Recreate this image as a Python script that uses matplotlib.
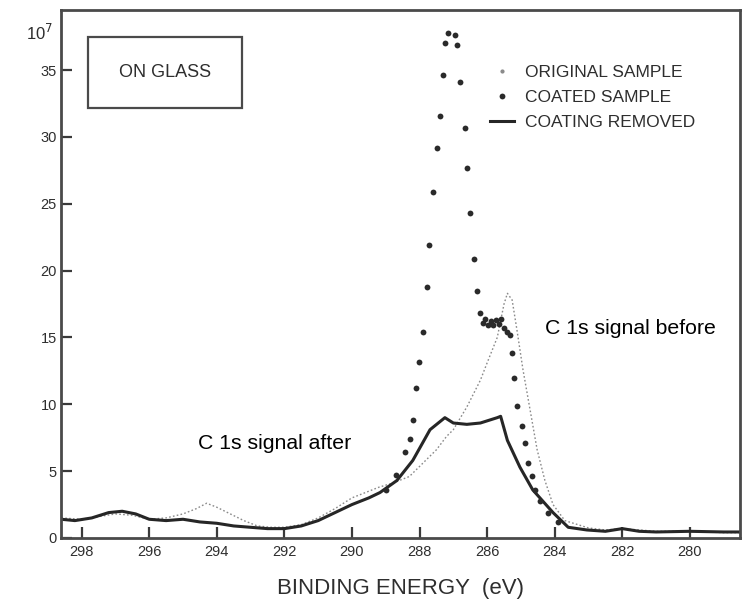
import numpy as np
import matplotlib
matplotlib.use("Agg")
import matplotlib.pyplot as plt
from matplotlib.lines import Line2D
from matplotlib.patches import Rectangle

plt.rcParams.update({
    "font.family": ["Liberation Sans", "DejaVu Sans"],
    "axes.linewidth": 2.0,
    "axes.edgecolor": "#4a4a4a",
    "xtick.direction": "in",
    "ytick.direction": "in",
    "xtick.color": "#3a3a3a",
    "ytick.color": "#3a3a3a",
})

INK = "#2e2e2e"

# C 1s spectra (counts x 1e7) on glass
orig_ev = [298.6, 298.0, 297.5, 297.0, 296.5, 296.0, 295.5, 295.0, 294.6, 294.3,
           294.0, 293.6, 293.2, 292.8, 292.4, 292.0, 291.5, 291.0, 290.5, 290.0,
           289.6, 289.2, 288.8, 288.3, 287.9, 287.5, 287.2, 287.0, 286.6, 286.2,
           286.0, 285.7, 285.5, 285.4, 285.26, 285.12, 284.94, 284.73, 284.52, 284.29,
           284.05, 283.7, 283.0, 282.5, 282.0, 281.0, 280.0, 279.0, 278.5]
orig_counts = [1.5, 1.4, 1.6, 1.8, 1.7, 1.4, 1.5, 1.8, 2.2, 2.6,
               2.3, 1.8, 1.3, 0.9, 0.8, 0.8, 1.0, 1.5, 2.2, 3.0,
               3.4, 3.8, 4.1, 4.6, 5.6, 6.6, 7.6, 8.1, 9.8, 11.8,
               13.1, 15.0, 17.5, 18.3, 17.8, 15.6, 12.6, 9.6, 6.6, 4.3,
               2.5, 1.3, 0.75, 0.6, 0.7, 0.5, 0.5, 0.4, 0.4]

coated_ev = [289.0, 288.7, 288.43, 288.29, 288.2, 288.11, 288.02, 287.9, 287.78, 287.72,
             287.61, 287.49, 287.4, 287.31, 287.26, 287.17, 286.96, 286.9, 286.81, 286.66,
             286.6, 286.51, 286.39, 286.3, 286.2, 286.12, 286.05, 285.97, 285.9, 285.82,
             285.74, 285.66, 285.58, 285.5, 285.42, 285.33, 285.27, 285.21, 285.12, 284.97,
             284.88, 284.79, 284.68, 284.58, 284.43, 284.2, 283.9]
coated_counts = [3.6, 4.7, 6.4, 7.4, 8.8, 11.2, 13.2, 15.4, 18.8, 21.9,
                 25.9, 29.2, 31.6, 34.6, 37.0, 37.8, 37.6, 36.9, 34.1, 30.7,
                 27.7, 24.3, 20.9, 18.5, 16.8, 16.1, 16.4, 15.9, 16.2, 15.9,
                 16.3, 16.0, 16.4, 15.7, 15.4, 15.2, 13.8, 12.0, 9.9, 8.4,
                 7.1, 5.6, 4.6, 3.6, 2.8, 1.9, 1.2]

removed_ev = [298.6, 298.2, 297.7, 297.2, 296.8, 296.4, 296.0, 295.5, 295.0, 294.5,
              294.0, 293.5, 293.0, 292.5, 292.0, 291.5, 291.0, 290.5, 290.0, 289.5,
              289.17, 288.67, 288.2, 287.69, 287.25, 287.0, 286.6, 286.2, 285.7, 285.6,
              285.4, 285.03, 284.65, 284.05, 283.6, 283.05, 282.5, 282.0, 281.5, 281.0,
              280.0, 279.0, 278.5]
removed_counts = [1.4, 1.3, 1.5, 1.9, 2.0, 1.8, 1.4, 1.3, 1.4, 1.2,
                  1.1, 0.9, 0.8, 0.7, 0.7, 0.9, 1.3, 1.9, 2.5, 3.0,
                  3.4, 4.3, 5.8, 8.1, 9.0, 8.6, 8.5, 8.6, 9.0, 9.1,
                  7.3, 5.3, 3.6, 1.9, 0.8, 0.6, 0.5, 0.7, 0.5, 0.45,
                  0.5, 0.45, 0.45]

x_ticks = [298, 296, 294, 292, 290, 288, 286, 284, 282, 280]
y_ticks = [0, 5, 10, 15, 20, 25, 30, 35]

fig = plt.figure(figsize=(7.46, 6.07), dpi=100)
ax = fig.add_axes([0.0818, 0.1137, 0.910, 0.870])

orig_style = dict(color="#8a8a8a", linewidth=1.0, linestyle=(0, (1.2, 1.6)))
coated_style = dict(color="#2a2a2a", linestyle="none", marker="o", markersize=4.2,
                    markeredgewidth=0)
removed_style = dict(color="#262626", linewidth=2.2)

ax.plot(orig_ev, orig_counts, **orig_style)
ax.plot(removed_ev, removed_counts, **removed_style)
ax.plot(coated_ev, coated_counts, **coated_style)

ax.set_xlim(298.61, 278.52)
ax.set_ylim(0, 39.5)
ax.set_xticks(x_ticks)
ax.set_yticks(y_ticks)
ax.tick_params(axis="both", length=8, width=1.6, labelsize=10.5, labelcolor=INK, pad=5)
ax.tick_params(axis="y", pad=3)
ax.set_xlabel("BINDING ENERGY  (eV)", fontsize=16, color=INK, labelpad=14)

# multiplier above the y axis
ax.text(-0.012, 0.956, r"10$^7$", transform=ax.transAxes, ha="right", va="center",
        fontsize=12, color=INK)

# sample label box
ax.add_patch(Rectangle((0.040, 0.814), 0.227, 0.135, transform=ax.transAxes,
                       fill=False, edgecolor="#4a4a4a", linewidth=1.6))
ax.text(0.153, 0.881, "ON GLASS", transform=ax.transAxes, ha="center", va="center",
        fontsize=13, color=INK)

handles = [
    Line2D([], [], color="#8a8a8a", linestyle="none", marker="o", markersize=2),
    Line2D([], [], **coated_style),
    Line2D([], [], **removed_style),
]
labels = ["ORIGINAL SAMPLE", "COATED SAMPLE", "COATING REMOVED"]
ax.legend(handles, labels, loc="upper left", bbox_to_anchor=(0.632, 0.895),
          frameon=False, fontsize=12.5, handlelength=1.4, handletextpad=0.6,
          labelspacing=0.55, borderpad=0, borderaxespad=0, labelcolor=INK)

# added annotations
ax.text(284.29, 15.7, "C 1s signal before", ha="left", va="center",
        fontsize=15.3, color="black")
ax.text(294.56, 7.1, "C 1s signal after", ha="left", va="center",
        fontsize=15.3, color="black")

fig.savefig("out.png", dpi=100)
